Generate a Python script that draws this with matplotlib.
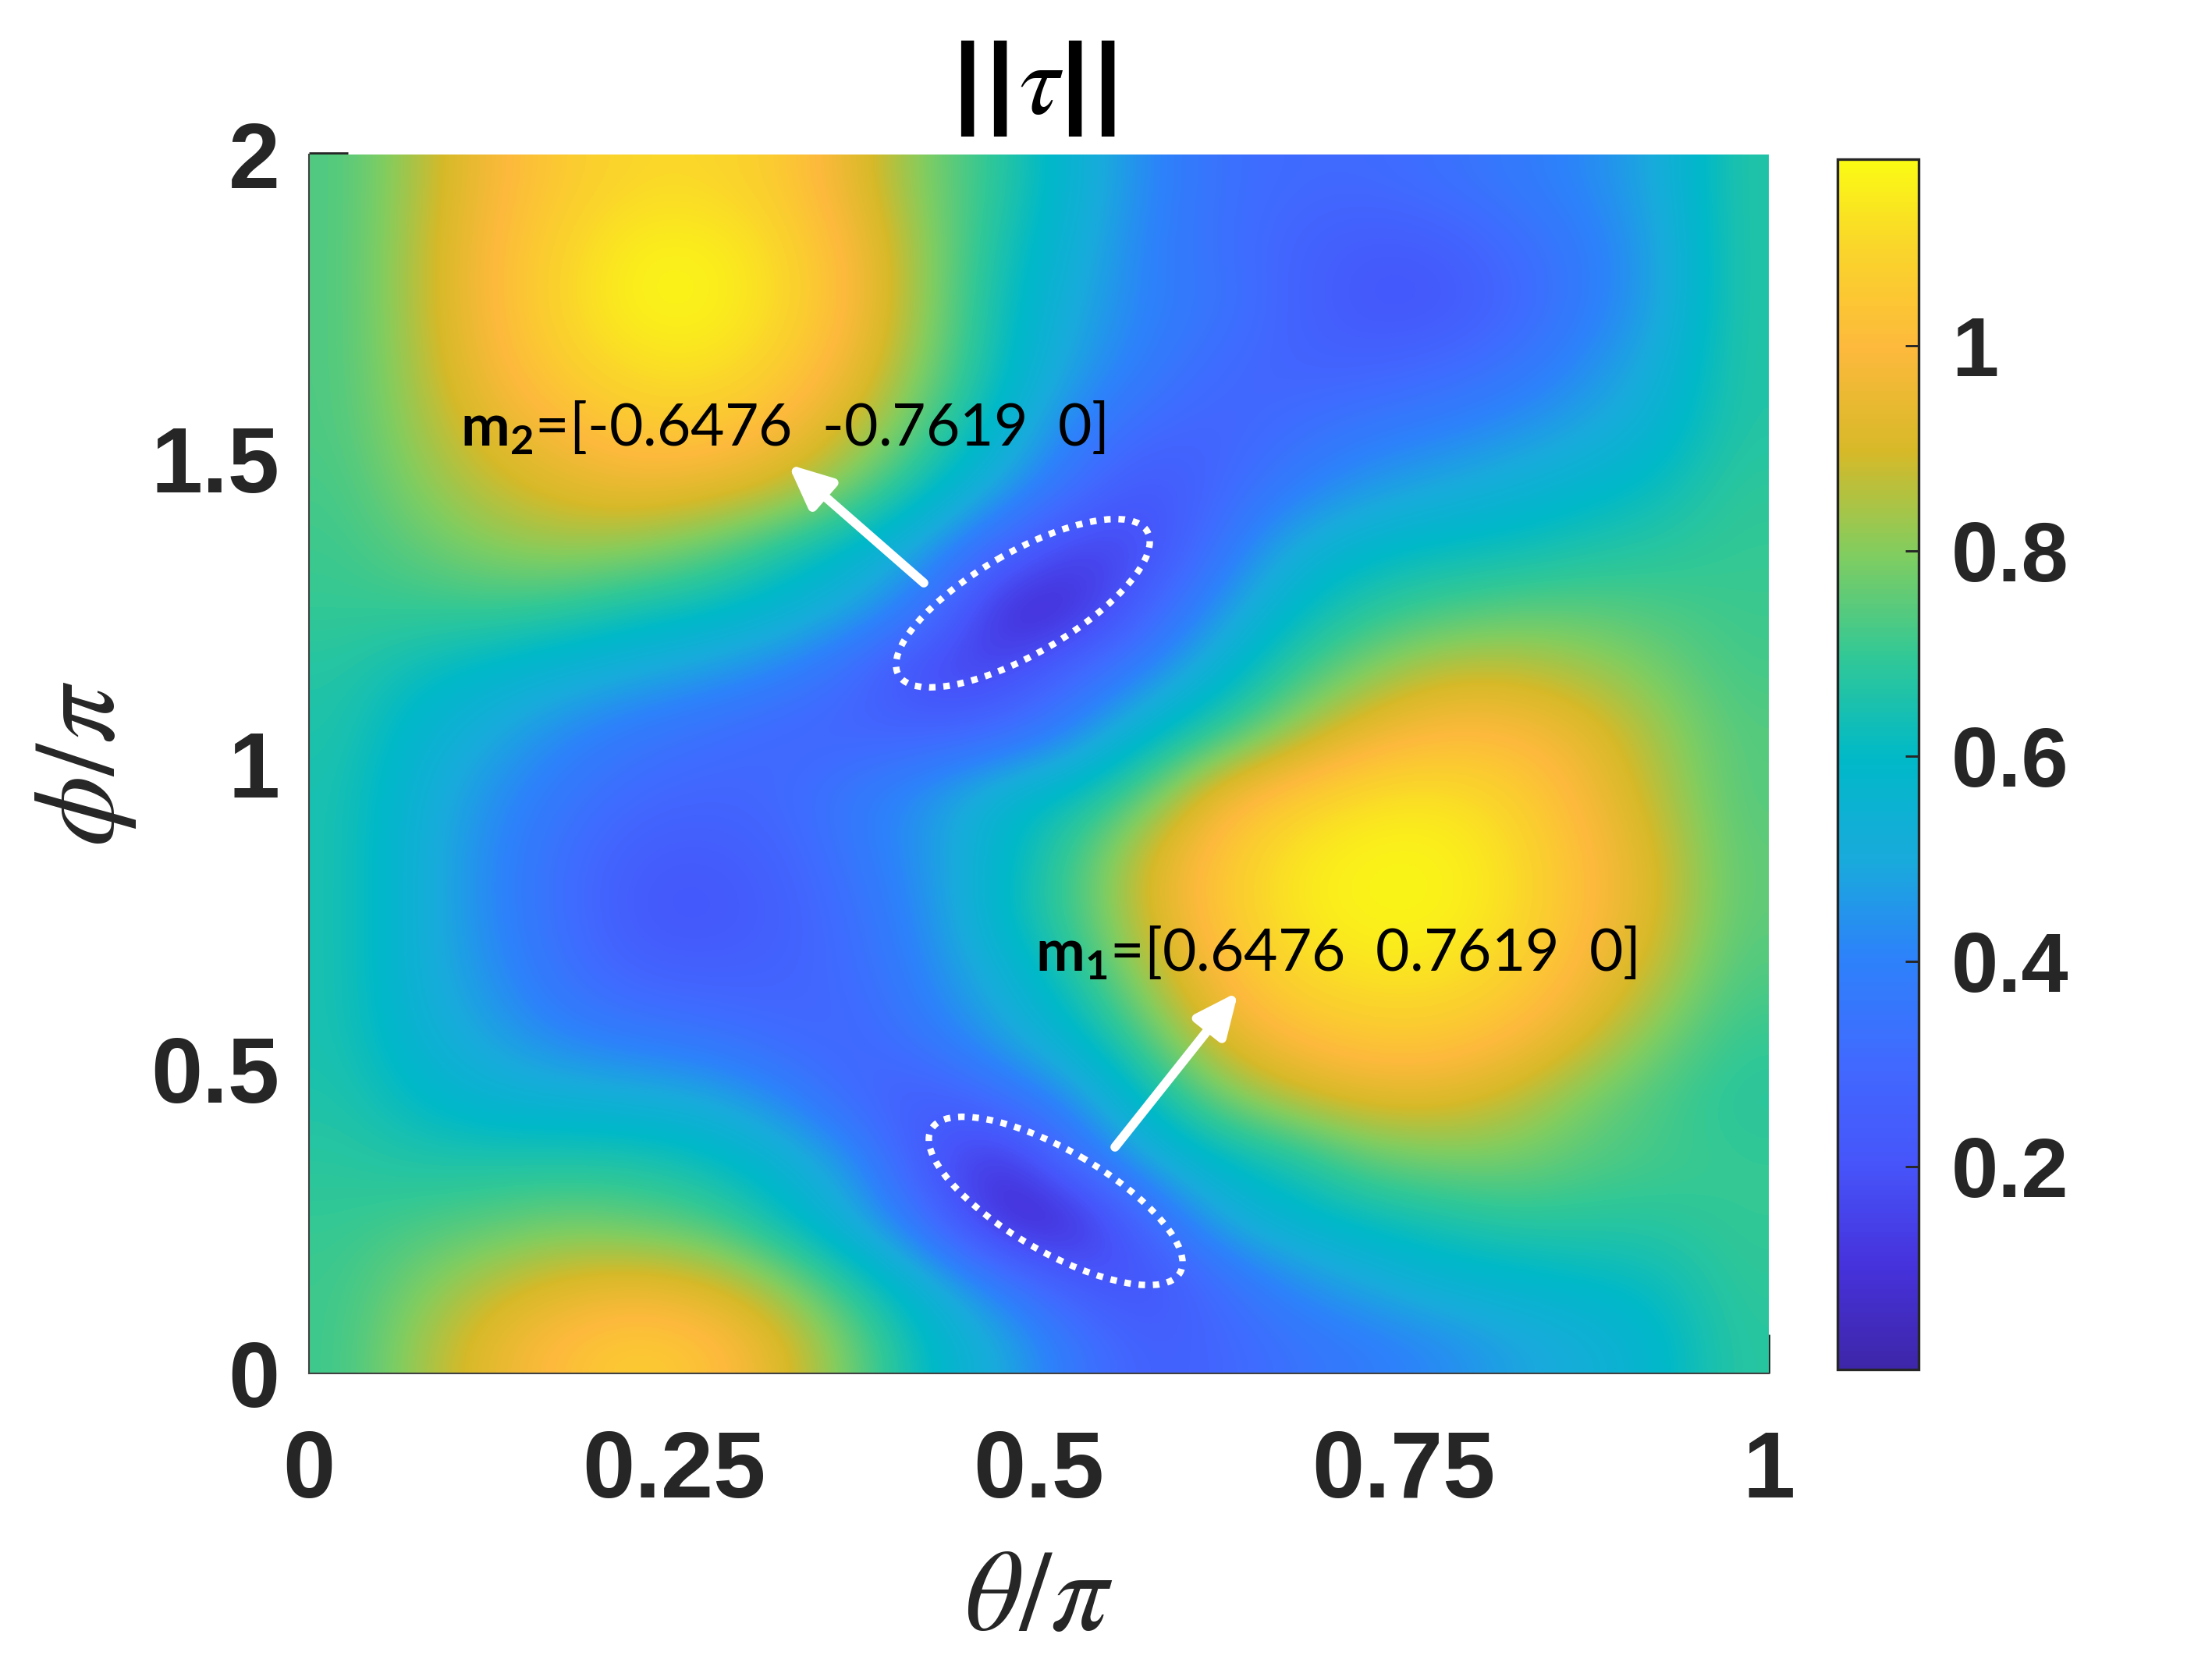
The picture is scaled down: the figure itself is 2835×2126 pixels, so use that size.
"""Torque magnitude map over theta/phi with the two minima marked."""

import matplotlib

matplotlib.use("Agg")

import matplotlib.pyplot as plt  # noqa: E402
import numpy as np  # noqa: E402
from matplotlib.colors import LinearSegmentedColormap  # noqa: E402
from matplotlib.patches import Ellipse  # noqa: E402

# cell centres: theta 0.025..0.975, phi listed from the top row down
TAU_ROWS = [
    [.73, .85, .98, 1.06, 1.10, 1.10, 1.06, .93, .78, .68, .55, .42, .33, .30, .30, .33, .37, .42, .50, .67],
    [.73, .86, 1.00, 1.09, 1.16, 1.16, 1.10, .98, .80, .65, .53, .40, .33, .27, .23, .24, .31, .38, .48, .67],
    [.73, .86, 1.00, 1.10, 1.17, 1.17, 1.11, .99, .80, .63, .50, .40, .35, .27, .21, .21, .28, .38, .48, .67],
    [.73, .85, .98, 1.07, 1.12, 1.13, 1.07, .95, .78, .62, .47, .38, .30, .27, .27, .30, .35, .43, .52, .67],
    [.73, .83, .93, 1.00, 1.05, 1.05, .99, .88, .72, .57, .40, .30, .27, .32, .37, .40, .44, .49, .56, .67],
    [.72, .80, .87, .92, .95, .93, .88, .76, .62, .48, .32, .20, .29, .39, .46, .50, .54, .58, .62, .69],
    [.71, .75, .80, .82, .80, .75, .66, .58, .46, .28, .13, .17, .36, .52, .59, .62, .63, .66, .68, .70],
    [.70, .70, .70, .68, .64, .61, .56, .48, .35, .05, .07, .28, .46, .60, .68, .72, .75, .75, .73, .71],
    [.67, .62, .58, .54, .50, .46, .40, .30, .13, .16, .30, .42, .56, .70, .80, .88, .88, .84, .78, .72],
    [.66, .57, .50, .42, .36, .32, .28, .27, .28, .31, .42, .58, .70, .83, .95, 1.00, 1.00, .94, .83, .74],
    [.65, .54, .44, .36, .30, .28, .30, .38, .45, .57, .62, .76, .96, 1.06, 1.12, 1.13, 1.08, .98, .86, .74],
    [.65, .53, .42, .32, .24, .23, .27, .36, .46, .58, .72, .90, 1.05, 1.14, 1.17, 1.17, 1.12, 1.01, .90, .75],
    [.65, .53, .42, .32, .22, .21, .25, .33, .44, .60, .72, .90, 1.05, 1.14, 1.17, 1.17, 1.12, 1.01, .90, .75],
    [.65, .53, .44, .34, .27, .26, .27, .31, .42, .53, .66, .84, 1.00, 1.10, 1.13, 1.13, 1.08, .98, .86, .73],
    [.65, .55, .48, .41, .38, .35, .30, .28, .37, .48, .58, .74, .92, 1.01, 1.05, 1.05, 1.00, .90, .78, .70],
    [.66, .60, .55, .54, .52, .50, .42, .29, .23, .33, .45, .62, .77, .87, .92, .92, .87, .78, .72, .68],
    [.68, .66, .66, .66, .66, .62, .55, .44, .20, .08, .33, .50, .60, .65, .75, .78, .78, .74, .72, .70],
    [.70, .72, .74, .77, .75, .72, .62, .50, .32, .05, .05, .30, .50, .58, .62, .65, .68, .68, .68, .70],
    [.71, .78, .86, .91, .93, .90, .80, .66, .53, .38, .22, .18, .32, .43, .50, .56, .58, .60, .62, .69],
    [.71, .83, .94, 1.02, 1.07, 1.03, .92, .76, .60, .50, .36, .25, .28, .34, .38, .42, .48, .52, .58, .68],
]
X_TICKS = [0, 0.25, 0.5, 0.75, 1]
X_LABELS = ["0", "0.25", "0.5", "0.75", "1"]
Y_TICKS = [0, 0.5, 1, 1.5, 2]
Y_LABELS = ["0", "0.5", "1", "1.5", "2"]
CBAR_TICKS = [0.2, 0.4, 0.6, 0.8, 1]
CBAR_LABELS = ["0.2", "0.4", "0.6", "0.8", "1"]
CLIM = (0.002, 1.182)
LABEL_M1 = r"$\mathbf{m_1}$=[0.6476  0.7619  0]"
LABEL_M2 = r"$\mathbf{m_2}$=[-0.6476  -0.7619  0]"

# parula-like stops as sampled from the colour bar
CMAP_COLORS = [
    (0.0, "#3e26a8"), (0.085, "#4632dc"), (0.17, "#4655fa"), (0.25, "#4169ff"),
    (0.34, "#2d82fa"), (0.42, "#19aadc"), (0.505, "#00b9c8"), (0.59, "#32c896"),
    (0.675, "#82cd5f"), (0.76, "#d7b928"), (0.845, "#fdb93c"), (0.93, "#fad62a"),
    (1.0, "#fafa14"),
]

W, H = 2835, 2126
DARK = "#262626"


def box(left, top, right, bottom):
    return [left / W, 1 - bottom / H, (right - left) / W, (bottom - top) / H]


plt.rcParams["mathtext.fontset"] = "custom"
plt.rcParams["mathtext.rm"] = "Lato"
plt.rcParams["mathtext.bf"] = "Lato:bold"

cmap = LinearSegmentedColormap.from_list("parula_like", CMAP_COLORS, N=256)

fig = plt.figure(figsize=(W / 300, H / 300), dpi=300)
ax = fig.add_axes(box(396, 198, 2267, 1760))
im = ax.imshow(
    np.array(TAU_ROWS),
    origin="upper",
    extent=(0, 1, 0, 2),
    aspect="auto",
    cmap=cmap,
    vmin=CLIM[0],
    vmax=CLIM[1],
    interpolation="bicubic",
    zorder=1,
)
ax.set_axisbelow(True)
ax.set_xlim(0, 1)
ax.set_ylim(0, 2)
ax.set_xticks(X_TICKS, X_LABELS, fontfamily="Liberation Sans", fontweight="bold", fontsize=29, color=DARK)
ax.set_yticks(Y_TICKS, Y_LABELS, fontfamily="Liberation Sans", fontweight="bold", fontsize=28.5, color=DARK)
ax.tick_params(axis="x", direction="in", length=12, width=0.7, color=DARK, pad=17)
ax.tick_params(axis="y", direction="in", length=12, width=1.6, color=DARK, pad=9)
ax.yaxis.get_major_ticks()[0].tick1line.set_visible(False)
for side in ("top", "right"):
    ax.spines[side].set_visible(False)
for side in ("left", "bottom"):
    ax.spines[side].set_linewidth(0.5)
    ax.spines[side].set_color("#404040")
ax.set_xlabel(r"$\theta/\pi$", fontsize=35, math_fontfamily="stix", color=DARK, labelpad=8)
ax.set_ylabel(r"$\phi/\pi$", fontsize=35, math_fontfamily="stix", color=DARK, labelpad=4)

cax = fig.add_axes(box(2355, 204, 2459, 1755))
cbar = fig.colorbar(im, cax=cax)
cbar.set_ticks(CBAR_TICKS, labels=CBAR_LABELS)
cbar.outline.set_linewidth(0.8)
cbar.outline.set_edgecolor(DARK)
cax.tick_params(direction="in", length=4, width=0.7, color=DARK, pad=10)
for tick_label in cax.get_yticklabels():
    tick_label.set_fontfamily("Liberation Sans")
    tick_label.set_fontweight("bold")
    tick_label.set_fontsize(26)
    tick_label.set_color(DARK)

# overlay in pixel coordinates for the hand-drawn callouts
overlay = fig.add_axes([0, 0, 1, 1], facecolor="none")
overlay.set_xlim(0, W)
overlay.set_ylim(H, 0)
overlay.axis("off")

overlay.text(
    1326, 146, r"|$\hspace{0.07}$|$\hspace{0.07}\tau$|$\hspace{0.07}$|", fontfamily="Liberation Sans",
    fontweight="bold", fontsize=31, math_fontfamily="stix", color="black", ha="center", va="baseline",
)

for center, angle in (((1311, 773), -30), ((1353, 1539), 30)):
    overlay.add_patch(
        Ellipse(center, 368, 130, angle=angle, fill=False, edgecolor="white", linewidth=2, linestyle=(0, (1, 1.2)))
    )

for tail, tip in (((1184, 747), (1010, 595)), ((1429, 1470), (1587, 1271))):
    overlay.annotate(
        "",
        xy=tip,
        xytext=tail,
        arrowprops=dict(
            arrowstyle="-|>,head_length=1.1,head_width=0.5",
            mutation_scale=10,
            linewidth=2.8,
            color="white",
            shrinkA=0,
            shrinkB=0,
        ),
    )

overlay.text(590, 572, LABEL_M2, fontfamily="Lato", fontsize=18, color="black", va="baseline")
overlay.text(1327, 1245, LABEL_M1, fontfamily="Lato", fontsize=18, color="black", va="baseline")

fig.savefig("out.png", dpi=300)
plt.close(fig)
